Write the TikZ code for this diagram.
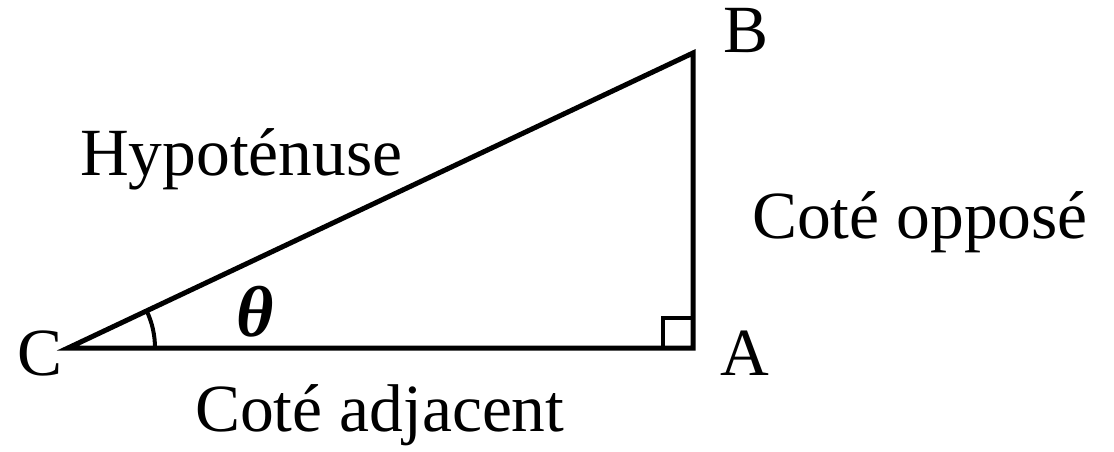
\documentclass[tikz,border=0pt]{standalone}
\usepackage{fontspec}
\setmainfont{Liberation Serif}
\usetikzlibrary{calc}
\begin{document}
\begin{tikzpicture}[x=1pt,y=1pt,
  side/.style={line width=5pt,line join=miter},
  lbl/.style={font=\fontsize{67.5}{70}\selectfont,inner sep=0pt,anchor=base west}]
\useasboundingbox (0,0) rectangle (1114,451);
\coordinate (C) at (68,103);
\coordinate (A) at (693,103);
\coordinate (B) at (693,398);
\draw[side] (C) -- (A) -- (B) -- cycle;
\draw[line width=4.5pt] ($(A)+(-30,0)$) |- ($(A)+(0,30)$);
\draw[line width=4pt] ($(C)+(87,0)$) arc[start angle=0,end angle=25.27,radius=87];
\node[lbl] (lB) at (723,399) {B};
\node[lbl] (lC) at (17,76) {C};
\node[lbl] (lA) at (720,76) {A};
\node[lbl] (lH) at (80,276) {Hypoténuse};
\node[lbl] (lO) at (752,213) {Coté opposé};
\node[lbl] (lD) at (195,20) {Coté adjacent};
\node[inner sep=0pt,font=\fontsize{72}{74}\selectfont\bfseries\itshape] (th) at (255,139) {θ};
\end{tikzpicture}
\end{document}
